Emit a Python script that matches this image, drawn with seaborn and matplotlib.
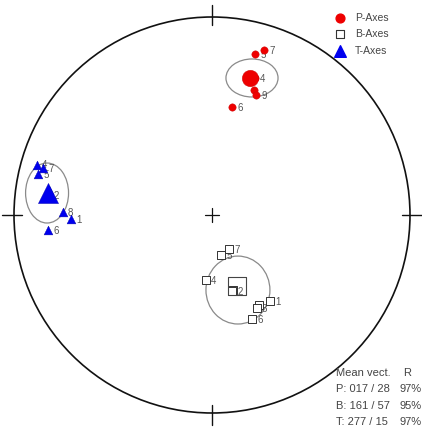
import numpy as np
import pandas as pd
import seaborn as sns
import matplotlib
matplotlib.use("Agg")
import matplotlib.pyplot as plt
from matplotlib.patches import Circle, Ellipse

sns.set_style("white")
plt.rcParams['font.family'] = ['Liberation Sans', 'DejaVu Sans']

# Individual axes (equal-area projected coordinates, unit circle); "" = label hidden
p_labels = ["", "", "", "", "4", "5", "7", "9", "6"]
p_x = [0.196, 0.190, 0.200, 0.212, 0.215, 0.217, 0.263, 0.222, 0.101]
p_y = [0.700, 0.690, 0.685, 0.630, 0.692, 0.813, 0.833, 0.606, 0.545]

b_labels = ["7", "5", "4", "", "2", "1", "", "8", "6"]
b_x = [0.086, 0.045, -0.030, 0.106, 0.101, 0.293, 0.237, 0.227, 0.202]
b_y = [-0.172, -0.202, -0.328, -0.380, -0.384, -0.434, -0.455, -0.470, -0.525]

t_labels = ["", "", "2", "4", "7", "5", "8", "1", "6"]
t_x = [-0.833, -0.823, -0.828, -0.884, -0.854, -0.879, -0.753, -0.712, -0.828]
t_y = [0.111, 0.126, 0.101, 0.253, 0.237, 0.207, 0.015, -0.020, -0.076]

# Mean vectors: table values and plotted positions
mean_names = ["P", "B", "T"]
mean_trend = [17, 161, 277]
mean_plunge = [28, 57, 15]
mean_R = [97, 95, 97]
mean_x = [0.194, 0.126, -0.828]
mean_y = [0.694, -0.359, 0.111]

# Confidence ellipses (center x, y, width, height)
ell_cx = [0.202, 0.131, -0.833]
ell_cy = [0.692, -0.379, 0.111]
ell_w = [0.263, 0.323, 0.217]
ell_h = [0.192, 0.343, 0.303]

fig = plt.figure(figsize=(4.22, 4.30), dpi=100)
ax = fig.add_axes([0, 0, 1, 1])
R = 198.0
ax.set_xlim(-212 / R, (422 - 212) / R)
ax.set_ylim(-(430 - 215) / R, 215 / R)
ax.axis("off")

ax.add_patch(Circle((0, 0), 1.0, fill=False, ec="#111111", lw=1.2, zorder=1))
for (x0, y0, x1, y1) in [(0, 0.96, 0, 1.06), (0, -0.96, 0, -1.06),
                         (-0.96, 0, -1.06, 0), (0.96, 0, 1.06, 0)]:
    ax.plot([x0, x1], [y0, y1], color="#111111", lw=1.0, zorder=1)
ax.plot([-0.035, 0.035], [0, 0], color="#111111", lw=0.9)
ax.plot([0, 0], [-0.035, 0.035], color="#111111", lw=0.9)

for cx, cy, w, h in zip(ell_cx, ell_cy, ell_w, ell_h):
    ax.add_patch(Ellipse((cx, cy), w, h, fill=False, ec="#8a8a8a", lw=0.9, zorder=2))

df_p = pd.DataFrame({"x": p_x, "y": p_y})
df_b = pd.DataFrame({"x": b_x, "y": b_y})
df_t = pd.DataFrame({"x": t_x, "y": t_y})

sns.scatterplot(data=df_p, x="x", y="y", ax=ax, marker="o", s=28, color="#ee0000",
                edgecolor="#cc0000", linewidth=0.3, zorder=4, legend=False)
sns.scatterplot(data=df_b, x="x", y="y", ax=ax, marker="s", s=30, facecolor="white",
                edgecolor="#333333", linewidth=0.7, zorder=4, legend=False)
sns.scatterplot(data=df_t, x="x", y="y", ax=ax, marker="^", s=40, color="#0000ee",
                edgecolor="#0000aa", linewidth=0.3, zorder=4, legend=False)

lab_kw = dict(fontsize=7, color="#555555", va="center", ha="left", zorder=3)
for lbls, xs, ys in [(p_labels, p_x, p_y), (b_labels, b_x, b_y), (t_labels, t_x, t_y)]:
    for l, x, y in zip(lbls, xs, ys):
        if l:
            ax.text(x + 0.026, y - 0.003, l, **lab_kw)

# mean vectors
ax.scatter([mean_x[0]], [mean_y[0]], marker="o", s=140, color="#ee0000",
           edgecolor="#cc0000", linewidth=0.3, zorder=6)
ax.scatter([mean_x[1]], [mean_y[1]], marker="s", s=170, facecolor="none",
           edgecolor="#444444", linewidth=0.8, zorder=6)
ax.scatter([mean_x[2]], [mean_y[2]], marker="^", s=210, color="#0000ee",
           edgecolor="#0000aa", linewidth=0.3, zorder=6)

# legend (manual, in axes fraction)
leg_names = ["P-Axes", "B-Axes", "T-Axes"]
leg_y = [18, 34, 51]
lkw = dict(transform=ax.transAxes, clip_on=False, zorder=7)
ax.scatter([340 / 422], [1 - leg_y[0] / 430], marker="o", s=40, color="#ee0000", **lkw)
ax.scatter([340 / 422], [1 - leg_y[1] / 430], marker="s", s=38, facecolor="white",
           edgecolor="#333333", linewidth=0.8, **lkw)
ax.scatter([340 / 422], [1 - leg_y[2] / 430], marker="^", s=70, color="#0000ee", **lkw)
for n, yy in zip(leg_names, leg_y):
    ax.text(355 / 422, 1 - yy / 430, n, transform=ax.transAxes, fontsize=7.5,
            color="#444444", va="center", ha="left")

# mean vector table
tx = 336 / 422
ax.text(tx, 1 - 373 / 430, "Mean vect.", transform=ax.transAxes, fontsize=8,
        color="#444444", va="center", ha="left")
ax.text(403 / 422, 1 - 373 / 430, "R", transform=ax.transAxes, fontsize=8,
        color="#444444", va="center", ha="left")
for i, (n, tr, pl, r) in enumerate(zip(mean_names, mean_trend, mean_plunge, mean_R)):
    yy = 1 - (389.5 + 16.3 * i) / 430
    ax.text(tx, yy, f"{n}: {tr:03d} / {pl:02d}", transform=ax.transAxes, fontsize=8,
            color="#444444", va="center", ha="left")
    ax.text(399 / 422, yy, f"{r}%", transform=ax.transAxes, fontsize=8,
            color="#444444", va="center", ha="left")

fig.savefig("out.png", dpi=100)
